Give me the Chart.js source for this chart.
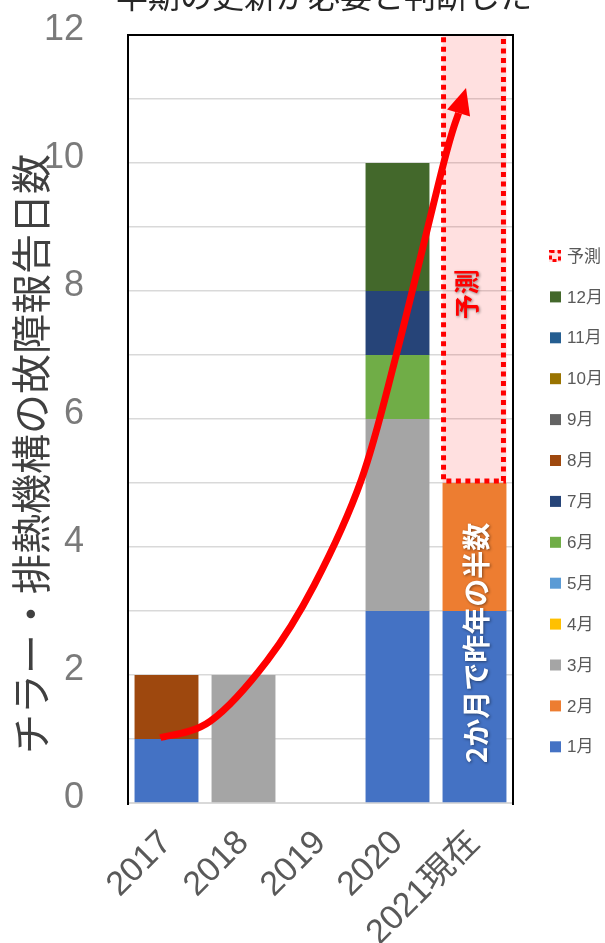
<!DOCTYPE html>
<html>
<head>
<meta charset="utf-8">
<script src="https://cdn.jsdelivr.net/npm/chart.js@4.4.0/dist/chart.umd.min.js"></script>
<style>
  html, body { margin: 0; padding: 0; background: #fff; }
  #wrap { width: 605px; height: 943px; }
</style>
</head>
<body>
<div id="wrap"><canvas id="myChart" width="605" height="943"></canvas></div>
<script>
// categories
const years = ["2017", "2018", "2019", "2020", "2021現在"];
const monthNames = ["1月", "2月", "3月", "4月", "5月", "6月", "7月", "8月", "9月", "10月", "11月", "12月"];
const monthColors = ["#4472C4", "#ED7D31", "#A5A5A5", "#FFC000", "#5B9BD5", "#70AD47",
                     "#264478", "#9E480E", "#636363", "#997300", "#255E91", "#43682B"];

// days per month, per year
const jan = [1, 0, 0, 3, 3];
const feb = [0, 0, 0, 0, 2];
const mar = [0, 2, 0, 3, 0];
const apr = [0, 0, 0, 0, 0];
const may = [0, 0, 0, 0, 0];
const jun = [0, 0, 0, 1, 0];
const jul = [0, 0, 0, 1, 0];
const aug = [1, 0, 0, 0, 0];
const sep = [0, 0, 0, 0, 0];
const oct = [0, 0, 0, 0, 0];
const nov = [0, 0, 0, 0, 0];
const dec = [0, 0, 0, 2, 0];
const forecast = [0, 0, 0, 0, 7];

// arrow path (category index, value)
const arrowPos = [-0.08, 0.57, 1.31, 1.92, 2.53, 2.99, 3.60, 3.89];
const arrowVal = [1.02, 1.28, 2.23, 3.41, 5.05, 7.03, 10.0, 11.17];

const topTitle = "半期の更新が必要と判断した";
const yTitle = "チラー・排熱機構の故障報告日数";
const forecastLabel = "予測";
const noteText = "2か月で昨年の半数";

const monthData = [jan, feb, mar, apr, may, jun, jul, aug, sep, oct, nov, dec];
const datasets = monthData.map((d, i) => ({
  label: monthNames[i],
  data: d,
  backgroundColor: monthColors[i],
  borderWidth: 0,
  barPercentage: 0.83,
  categoryPercentage: 1.0,
}));
datasets.push({
  label: forecastLabel,
  data: forecast,
  backgroundColor: "rgba(255, 0, 0, 0.12)",
  borderWidth: 0,
  barPercentage: 0.83,
  categoryPercentage: 1.0,
});

const tickFont = "'Liberation Sans', 'Noto Sans CJK JP', sans-serif";
const jpFont = "'Noto Sans CJK JP', sans-serif";

const extras = {
  id: "extras",
  afterDatasetsDraw(chart) {
    const ctx = chart.ctx;
    const area = chart.chartArea;
    const xs = chart.scales.x;
    const ys = chart.scales.y;

    // dotted border around the forecast bar (clipped at the plot top)
    const el = chart.getDatasetMeta(12).data[4];
    ctx.save();
    ctx.beginPath();
    ctx.rect(area.left, area.top, area.right - area.left, area.bottom - area.top);
    ctx.clip();
    ctx.strokeStyle = "#FF0000";
    ctx.lineWidth = 5;
    ctx.setLineDash([5, 4.5]);
    const l = el.x - el.width / 2 + 1;
    const r = el.x + el.width / 2 - 3;
    ctx.strokeRect(l, el.y - 12, r - l, el.base - 2 - (el.y - 12));
    ctx.restore();

    // frame: left, top, right
    ctx.save();
    ctx.strokeStyle = "#000";
    ctx.lineWidth = 2;
    ctx.beginPath();
    ctx.moveTo(area.left, area.bottom + 2);
    ctx.lineTo(area.left, area.top);
    ctx.lineTo(area.right, area.top);
    ctx.lineTo(area.right, area.bottom + 2);
    ctx.stroke();
    ctx.restore();

    // arrow
    const pts = arrowPos.map((p, i) => ({ x: xs.getPixelForValue(p), y: ys.getPixelForValue(arrowVal[i]) }));
    const tip = pts[pts.length - 1];
    const prev = pts[pts.length - 2];
    const ang = Math.atan2(tip.y - prev.y, tip.x - prev.x);
    const headLen = 26, headHalf = 12;
    const base = { x: tip.x - headLen * Math.cos(ang), y: tip.y - headLen * Math.sin(ang) };
    const path = pts.slice(0, -1).concat([base]);
    ctx.save();
    ctx.strokeStyle = "#FF0000";
    ctx.fillStyle = "#FF0000";
    ctx.lineWidth = 7;
    ctx.lineJoin = "round";
    ctx.beginPath();
    ctx.moveTo(path[0].x, path[0].y);
    for (let i = 0; i < path.length - 1; i++) {
      const p0 = path[Math.max(i - 1, 0)], p1 = path[i], p2 = path[i + 1], p3 = path[Math.min(i + 2, path.length - 1)];
      ctx.bezierCurveTo(
        p1.x + (p2.x - p0.x) / 6, p1.y + (p2.y - p0.y) / 6,
        p2.x - (p3.x - p1.x) / 6, p2.y - (p3.y - p1.y) / 6,
        p2.x, p2.y);
    }
    ctx.stroke();
    ctx.beginPath();
    ctx.moveTo(tip.x, tip.y);
    ctx.lineTo(base.x + headHalf * Math.sin(ang), base.y - headHalf * Math.cos(ang));
    ctx.lineTo(base.x - headHalf * Math.sin(ang), base.y + headHalf * Math.cos(ang));
    ctx.closePath();
    ctx.fill();
    ctx.restore();

    // rotated labels inside the 2021 bar
    const drawVert = (text, px, py, font, color) => {
      ctx.save();
      ctx.translate(px, py);
      ctx.rotate(-Math.PI / 2);
      ctx.font = font;
      ctx.textAlign = "center";
      ctx.textBaseline = "middle";
      ctx.shadowColor = "rgba(0,0,0,0.45)";
      ctx.shadowBlur = 3;
      ctx.shadowOffsetX = 1;
      ctx.shadowOffsetY = 1;
      ctx.fillStyle = color;
      ctx.fillText(text, 0, 0);
      ctx.restore();
    };
    drawVert(forecastLabel, xs.getPixelForValue(3.9), ys.getPixelForValue(7.95), "bold 25px " + jpFont, "#FF0000");
    drawVert(noteText, xs.getPixelForValue(4.03), ys.getPixelForValue(2.5), "bold 28px " + jpFont, "#FFFFFF");
  },
  afterDraw(chart) {
    const ctx = chart.ctx;
    // top title (cut off by the canvas edge)
    ctx.save();
    ctx.font = "32px " + jpFont;
    ctx.fillStyle = "#262626";
    ctx.textAlign = "center";
    ctx.textBaseline = "middle";
    ctx.fillText(topTitle, 324, -4);
    ctx.restore();

    // y axis title
    ctx.save();
    ctx.translate(31, 454);
    ctx.rotate(-Math.PI / 2);
    ctx.font = "40px " + jpFont;
    ctx.fillStyle = "#404040";
    ctx.textAlign = "center";
    ctx.textBaseline = "middle";
    ctx.fillText(yTitle, 0, 0);
    ctx.restore();

    // legend, reversed order
    const items = chart.data.datasets.slice().reverse();
    ctx.save();
    ctx.font = "17px " + tickFont;
    ctx.textBaseline = "middle";
    ctx.textAlign = "left";
    items.forEach((ds, i) => {
      const cy = 256 + i * 40.9;
      if (ds.label === forecastLabel) {
        ctx.fillStyle = "rgba(255,0,0,0.12)";
        ctx.fillRect(549, cy - 6, 12, 12);
        ctx.strokeStyle = "#FF0000";
        ctx.lineWidth = 3;
        ctx.setLineDash([4, 3]);
        ctx.strokeRect(550.5, cy - 4.5, 9, 9);
        ctx.setLineDash([]);
      } else {
        ctx.fillStyle = ds.backgroundColor;
        ctx.fillRect(550, cy - 5.5, 11, 11);
      }
      ctx.fillStyle = "#595959";
      ctx.fillText(ds.label, 567, cy + 1);
    });
    ctx.restore();
  }
};

const ctx = document.getElementById("myChart");
new Chart(ctx, {
  type: "bar",
  data: { labels: years, datasets: datasets },
  options: {
    responsive: false,
    animation: false,
    layout: { padding: { top: 35, right: 92, left: 0, bottom: 0 } },
    plugins: {
      legend: { display: false },
      tooltip: { enabled: false },
    },
    scales: {
      x: {
        stacked: true,
        grid: { display: false, drawTicks: false },
        border: { color: "#d9d9d9", width: 2 },
        ticks: {
          color: "#595959",
          font: { family: tickFont, size: 34 },
          maxRotation: 45,
          minRotation: 45,
          autoSkip: false,
          padding: 20,
        },
        afterFit: (s) => { s.height = 140; s.paddingLeft = 0; s.paddingRight = 0; },
      },
      y: {
        stacked: true,
        min: 0,
        max: 12,
        grid: { color: "#d9d9d9", lineWidth: 1.5, drawTicks: false },
        border: { color: "#000", width: 2 },
        ticks: {
          stepSize: 1,
          color: "#7a7a7a",
          font: { family: tickFont, size: 36 },
          padding: 44,
          labelOffset: -5,
          callback: (v) => (v % 2 === 0 ? v : ""),
        },
        afterFit: (s) => { s.width = 128; s.paddingTop = 0; s.paddingBottom = 0; },
      },
    },
  },
  plugins: [extras],
});
</script>
</body>
</html>
